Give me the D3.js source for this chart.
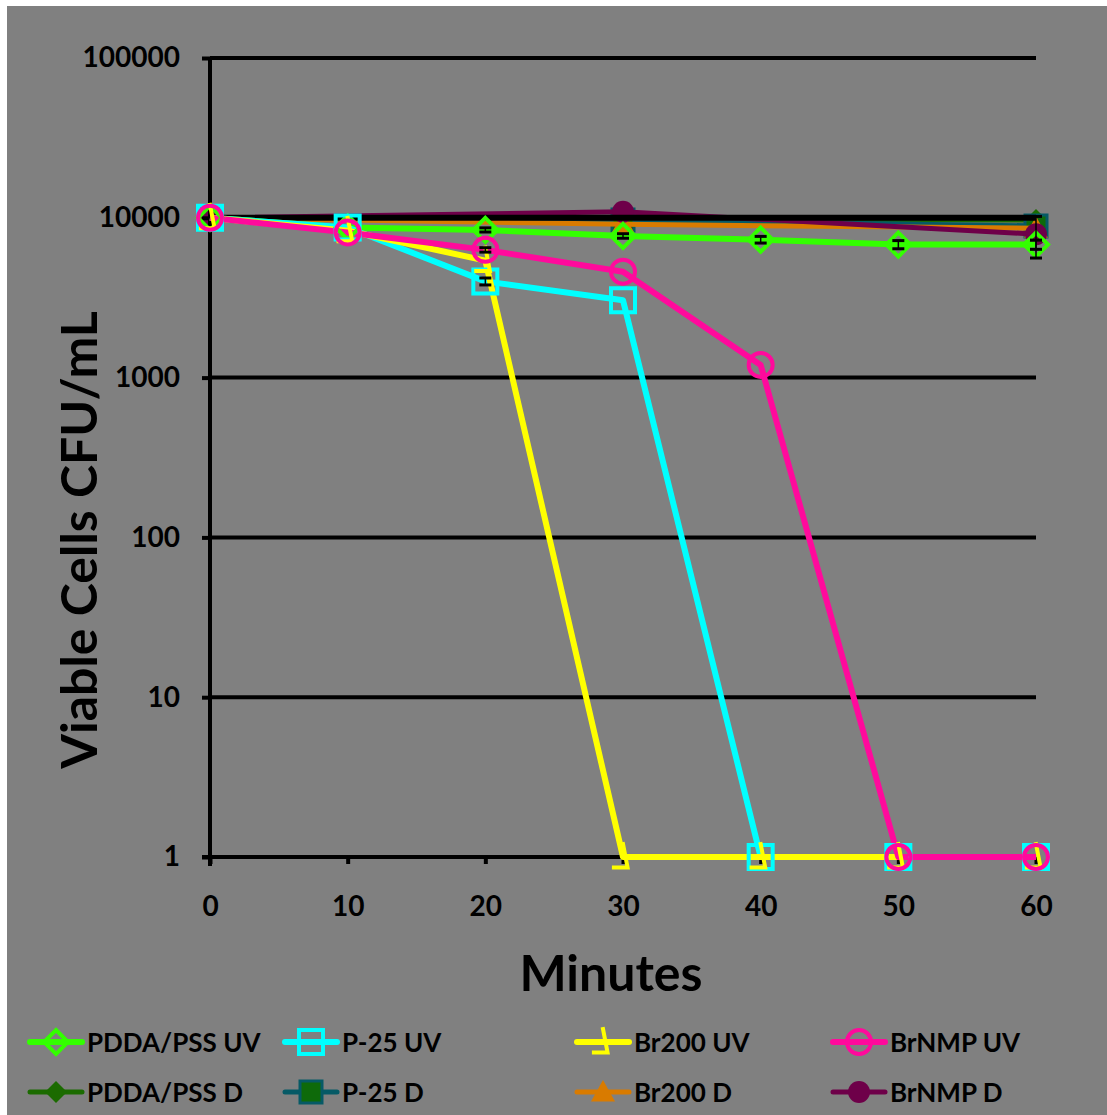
<!DOCTYPE html>
<html>
<head>
<meta charset="utf-8">
<script src="https://cdn.jsdelivr.net/npm/d3@7/dist/d3.min.js"></script>
<style>
  html, body { margin: 0; padding: 0; background: #ffffff; }
  svg { display: block; }
  text { font-family: Lato, "Open Sans", sans-serif; font-weight: bold; fill: #000; }
</style>
</head>
<body>
<svg id="chart" width="1107" height="1115"></svg>
<script>
// Sampling times (minutes)
const minutes = [0, 10, 20, 30, 40, 50, 60];
const darkMinutes = [0, 30, 60];

// Viable cell counts under UV, CFU/mL
const pddaUV  = [10000, 8700, 8400, 7700, 7300, 6800, 6800];
const p25UV   = [10000, 8700, 4000, 3050, 1, 1, 1];
const br200UV = [10000, 8300, 5400, 1, 1, 1, 1];
const brnmpUV = [10000, 8100, 6300, 4600, 1200, 1, 1];
// Viable cell counts in the dark, CFU/mL
const pddaD   = [10000, 9800, 9700];
const p25D    = [10000, 9700, 8900];
const br200D  = [10000, 9100, 8600];
const brnmpD  = [10000, 10900, 7900];

// Standard deviations (CFU/mL)
const pddaUVErr  = [0, 0, 250, 250, 350, 400, 450];
const p25UVErr   = [0, 0, 200, 0, 0, 0, 0];
const brnmpUVErr = [0, 0, 200, 0, 0, 0, 0];
const brnmpDErr  = [0, 0, 2300];

// Axis ticks
const xTicks = [0, 10, 20, 30, 40, 50, 60];
const yTicks = [1, 10, 100, 1000, 10000, 100000];

const series = [
  { name: "PDDA/PSS UV", t: minutes, values: pddaUV,  err: pddaUVErr,  color: "#33ff00", marker: "diamondOpen", width: 6 },
  { name: "P-25 UV",     t: minutes, values: p25UV,   err: p25UVErr,   color: "#00ffff", marker: "squareOpen",  width: 6 },
  { name: "Br200 UV",    t: minutes, values: br200UV, err: null,       color: "#ffff00", marker: "triOpen",     width: 6 },
  { name: "BrNMP UV",    t: minutes, values: brnmpUV, err: brnmpUVErr, color: "#ff0a9c", marker: "circleOpen",  width: 6 },
  { name: "PDDA/PSS D",  t: darkMinutes, values: pddaD,  err: null,      color: "#1b6b00", marker: "diamond",  width: 5, fill: "#1b6b00" },
  { name: "P-25 D",      t: darkMinutes, values: p25D,   err: null,      color: "#065a66", marker: "square",   width: 5, fill: "#0e6a0a" },
  { name: "Br200 D",     t: darkMinutes, values: br200D, err: null,      color: "#d97b00", marker: "triangle", width: 5, fill: "#d97b00" },
  { name: "BrNMP D",     t: darkMinutes, values: brnmpD, err: brnmpDErr, color: "#6e0049", marker: "circle",   width: 5, fill: "#6e0049" }
];

const svg = d3.select("#chart");

// gray chart area
svg.append("rect").attr("x", 7).attr("y", 6).attr("width", 1100).attr("height", 1109).attr("fill", "#808080");

const x = d3.scaleLinear().domain([0, 60]).range([210, 1036]);
const y = d3.scaleLog().domain([1, 100000]).range([857, 58]);

// marker shapes
function markerPath(type, r) {
  switch (type) {
    case "diamondOpen":
    case "diamond": return `M0,${-r}L${r},0L0,${r}L${-r},0Z`;
    case "squareOpen":
    case "square": return `M${-r},${-r}H${r}V${r}H${-r}Z`;
    case "triOpen": return `M0,${-r}L${r * 0.35},${r * 0.8}H${-r * 0.7}`;
    case "triangle": return `M0,${-r}L${r},${r * 0.8}H${-r}Z`;
    default: return d3.arc()({ innerRadius: 0, outerRadius: r, startAngle: 0, endAngle: 2 * Math.PI });
  }
}
function drawMarker(g, s, px, py) {
  const open = s.marker.endsWith("Open");
  const r = { diamondOpen: 12, squareOpen: 12, triOpen: 13, circleOpen: 12,
              diamond: 11, square: 11, triangle: 12, circle: 11 }[s.marker];
  g.append("path").attr("transform", `translate(${px},${py})`)
    .attr("d", markerPath(s.marker, r))
    .attr("fill", open ? "none" : s.fill)
    .attr("stroke", s.marker === "square" ? s.color : (open ? s.color : "none"))
    .attr("stroke-width", open ? 4 : 3)
    .attr("stroke-linejoin", "miter").attr("stroke-linecap", "square");
}
function drawSeries(g, s) {
  const line = d3.line().x((d, i) => x(s.t[i])).y(d => y(d));
  g.append("path").attr("d", line(s.values)).attr("fill", "none")
    .attr("stroke", s.color).attr("stroke-width", s.width).attr("stroke-linejoin", "round");
  s.values.forEach((v, i) => drawMarker(g, s, x(s.t[i]), y(v)));
}

// dark-control runs sit beneath the grid
const dark = svg.append("g");
series.slice(4).forEach(s => drawSeries(dark, s));

// horizontal gridlines
const grid = svg.append("g");
grid.selectAll("line").data(yTicks.slice(1)).join("line")
  .attr("x1", x(0)).attr("x2", x(60))
  .attr("y1", d => y(d)).attr("y2", d => y(d))
  .attr("stroke", "#000").attr("stroke-width", d => d === 10000 ? 6 : 4);

// axes
const yAxis = svg.append("g").attr("transform", `translate(${x(0)},0)`)
  .call(d3.axisLeft(y).tickValues(yTicks).tickFormat(d3.format("d")).tickSize(8).tickPadding(22));
const xAxis = svg.append("g").attr("transform", `translate(0,${y(1)})`)
  .call(d3.axisBottom(x).tickValues(xTicks).tickFormat(d3.format("d")).tickSize(7).tickPadding(32));
[yAxis, xAxis].forEach(a => {
  a.select(".domain").attr("stroke", "#000").attr("stroke-width", 4);
  a.selectAll(".tick line").attr("stroke", "#000").attr("stroke-width", 4);
  a.selectAll(".tick text").style("font-size", "28px").attr("fill", "#000");
});
xAxis.select(".domain").attr("d", `M${x(0) - 8},0H${x(60)}`);
yAxis.select(".domain").attr("d", `M0,${y(100000)}V${y(1) + 9}`);

// axis titles
svg.append("text").attr("x", 611).attr("y", 991).attr("text-anchor", "middle")
  .style("font-size", "50px").text("Minutes");
svg.append("text").attr("transform", "translate(97,540) rotate(-90)").attr("text-anchor", "middle")
  .style("font-size", "50px").text("Viable Cells CFU/mL");

// UV runs on top
const uv = svg.append("g");
series.slice(0, 4).forEach(s => {
  const line = d3.line().x((d, i) => x(s.t[i])).y(d => y(d));
  uv.append("path").attr("d", line(s.values)).attr("fill", "none")
    .attr("stroke", s.color).attr("stroke-width", s.width).attr("stroke-linejoin", "round");
});
series.slice(0, 4).forEach(s => s.values.forEach((v, i) => drawMarker(uv, s, x(s.t[i]), y(v))));

// error bars
const eb = svg.append("g").attr("stroke", "#000").attr("stroke-width", 3);
series.filter(s => s.err).forEach(s => {
  s.values.forEach((v, i) => {
    const e = s.err[i];
    if (!e) return;
    const cx = x(s.t[i]), y0 = y(v + e), y1 = y(Math.max(v - e, 1));
    eb.append("line").attr("x1", cx).attr("x2", cx).attr("y1", y0).attr("y2", y1).attr("stroke-width", 1.5);
    [y0, y1].forEach(yy => eb.append("line").attr("x1", cx - 6).attr("x2", cx + 6).attr("y1", yy).attr("y2", yy));
  });
});

// legend
const legendCols = [30, 285, 577, 833];
const legendRows = [1042, 1092];
const leg = svg.append("g");
series.forEach((s, i) => {
  const lx = legendCols[i % 4], ly = legendRows[Math.floor(i / 4)];
  const g = leg.append("g");
  g.append("line").attr("x1", lx).attr("x2", lx + 52).attr("y1", ly).attr("y2", ly)
    .attr("stroke", s.color).attr("stroke-width", s.width).attr("stroke-linecap", "round");
  drawMarker(g, s, lx + 26, ly);
  g.append("text").attr("x", lx + 57).attr("y", ly + 10).style("font-size", "26px").text(s.name);
});
</script>
</body>
</html>
